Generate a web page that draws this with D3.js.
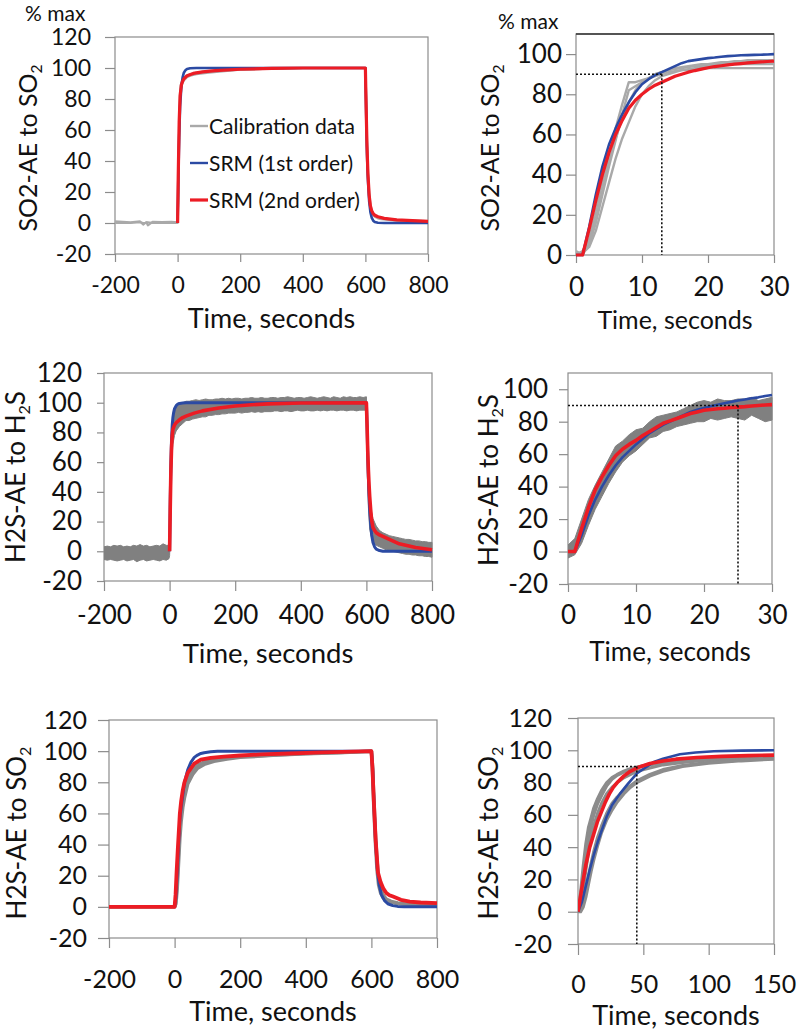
<!DOCTYPE html>
<html><head><meta charset="utf-8">
<script src="https://cdn.jsdelivr.net/npm/d3@7/dist/d3.min.js"></script>
<style>
body{margin:0;background:#fff;}
svg{display:block;font-family:Lato,"Open Sans",sans-serif;}
</style></head>
<body>
<svg id="c" width="799" height="1032"></svg>
<script>
// ---------- Panel 1: SO2-AE to SO2 (long run) ----------
const p1GrayT = [-200,-150,-120,-110,-100,-95,-80,-50,-20,0,2,4,6,8,10,15,20,30,40,60,80,100,150,200,300,400,500,600,602,605,608,612,616,620,625,630,640,650,675,700,750,800];
const p1Gray1 = [1,0.5,1,-1,0.5,-1.5,0.8,0.6,0.7,0.5,15,45,68,80,86,90,92,94,95,96,96.5,97,98,99,99.5,100,100,100,85,55,35,20,12,8,6,5,4,3.5,2.5,2,1.5,1.2];
const p1Gray2 = [0,0,0.5,0,0,0.5,0,0,0,0,20,55,75,85,89,92,93.5,95,96,97,97.5,98,98.5,99,99.5,100,100,100,80,50,30,17,10,7,5,4,3,2.5,2,1.5,1,1];
const p1BlueT = [0,2,5,8,12,16,20,25,30,40,60,100,200,400,600,602,605,608,612,616,620,625,630,640,660,700,800];
const p1Blue  = [0,25,55,75,88,94,97,98.5,99.3,99.8,100,100,100,100,100,75,45,28,14,7,3.5,1.5,0.6,0.2,0,0,0];
const p1RedT  = [0,2,5,8,12,16,20,30,50,80,120,200,300,400,600,602,605,608,612,616,620,625,630,640,660,700,750,800];
const p1Red   = [0,30,65,82,89,91.5,93,95,96.5,97.5,98.3,99.2,99.7,100,100,78,50,32,18,11,8,6,5,4,3,2,1.5,1];

// ---------- Panel 2: SO2-AE to SO2 (first 30 s) ----------
const p2T = [0,1,2,3,4,5,6,7,8,9,10,11,12,13,14,15,16,17,18,19,20,21,22,23,24,25,26,27,28,29,30];
const p2Gray1 = [0,2,8,22,36,50,63,75,86,86,87,88,89,90,91,91.5,92,92,92.5,92.5,93,93,93,93,93,93,93,93,93,93,93];
const p2Gray2 = [0,1,5,16,30,44,57,70,82,84,86,88,90,91,92,92.5,93,93.5,94,94,94.5,95,95,95,95.5,95.5,96,96,96,96.5,96.5];
const p2Gray3 = [1,1,4,12,24,36,48,58,66,74,80,84,87,89,90,91,92,92.5,93,93.5,94,94,94.5,94.5,95,95,95,95,95,95,95];
const p2Gray4 = [2,0,6,18,32,46,58,68,76,82,86,88,90,91,92,93,93.5,94,94.5,95,95,95.5,96,96,96.5,96.5,97,97,97,97,97];
const p2Blue  = [0,0,14,30,44,55,63,70,76,81,85,87.5,89.5,91,92.5,94,95.5,96.5,97,97.5,98,98.3,98.7,99,99.2,99.4,99.5,99.6,99.7,99.8,100];
const p2Red   = [0,0,13,27,40,51,60,67,73,77,80,82.5,84.5,86,87.5,89,90,91,91.8,92.5,93.2,93.8,94.2,94.6,95,95.3,95.6,95.9,96.1,96.3,96.5];

// ---------- Panel 3: H2S-AE to H2S (long run) ----------
const p3BandT = [-200,-190,-180,-170,-160,-150,-140,-130,-120,-110,-100,-90,-80,-70,-60,-50,-40,-30,-20,-10,-2,0,2,5,8,10,15,20,30,40,50,60,70,80,90,100,110,120,130,140,150,160,170,180,190,200,210,220,230,240,250,260,270,280,290,300,310,320,330,340,350,360,370,380,390,400,410,420,430,440,450,460,470,480,490,500,510,520,530,540,550,560,570,580,590,600,603,606,610,615,620,630,640,650,660,670,680,690,700,710,720,730,740,750,760,770,780,790,800];
const p3BandHi = [3,3.5,3,4,3.5,4,3,3.5,3,4,3.5,4.5,3.5,4,3,3.5,4,3.5,5,4,4,5,30,65,85,90,95,97,99,100,101,101,101.5,102,101.5,102,102.5,102,102,102.5,102.5,103,102.5,103,102.5,103,103,102.5,103,103,103.5,103,103,103.5,103,103,103.5,103.5,103,103.5,103.5,104,103.5,103,103.5,103.5,103,103.5,104,103.5,103,103.5,104,103.5,103,104,103.5,103,104,103.5,104,103.5,103.5,104,103.5,104,80,55,35,27,22,17,14,12.5,11.5,10.5,10,9.5,9,8.5,8,8,7.5,7,7,6.5,6.5,6,6];
const p3BandLo = [-5.5,-6,-5.5,-6,-6.5,-6,-5.5,-6.5,-6,-5.5,-7,-6,-5.5,-6.5,-6,-5.5,-6,-6.5,-5.5,-6,-5,-3,10,45,65,72,78,81,84,86,88,88,89,89.5,90,90.5,90.5,91.5,91.5,92,92,92.5,92.5,93,93,93,93.5,93,93.5,93.5,94,93.5,94,93.5,94,94,94,94.5,94.5,94,94.5,94.5,94,94.5,95,94.5,94.5,95,94.5,94.5,95,94.5,95,94.5,95,95,94.5,95,95,94.5,95,95,94.5,95,95,95,50,30,15,10,7,4,3,2,1,0.5,0,-0.5,-1,-1.5,-2,-2,-2.5,-2.5,-3,-3,-3.5,-3.5,-4];
const p3BlueT = [0,2,4,6,8,10,12,15,20,25,30,40,50,70,100,600,602,604,606,608,610,613,616,620,625,630,640,650,700,800];
const p3Blue  = [0,35,60,76,85,90,93,96,98,99,99.5,99.8,100,100,100,100,85,65,50,38,28,18,11,6,3,1.5,0.5,0,0,0];
const p3RedT  = [0,2,4,6,8,10,15,20,30,40,50,75,100,150,200,250,300,400,600,602,604,606,608,610,613,616,620,625,630,640,650,675,700,750,800];
const p3Red   = [0,30,55,70,78,82,85,86.5,88.5,90,91,93,94.5,96.5,97.8,98.6,99.2,99.8,100,85,68,55,45,37,28,21,16,14,12.5,11,10,7.5,5,2.5,1];

// ---------- Panel 4: H2S-AE to H2S (first 30 s) ----------
const p4T = [0,1,2,3,4,5,6,7,8,9,10,11,12,13,14,15,16,17,18,19,20,21,22,23,24,25,26,27,28,29,30];
const p4BandHi = [4,8,20,32,41,49,57,65,68,72,75,76,80,83,84,85,86,88,90,92,93,92,94,93,93,94,94,95,93,94,95];
const p4BandLo = [-4,-2,5,16,26,34,42,49,55,59,62,66,70,71,74,75,77,78,79,80,80,82,81,82,83,82,81,84,82,80,81];
const p4Blue   = [0,0,10,22,32,40,47,53,58,62,66,69.5,73,75.5,78,80,82,84,86,87.3,88.5,89.5,90.5,91.4,92.2,93,93.7,94.4,95,95.8,96.5];
const p4Red    = [0,0,14,27,38,46,53,59,63,66,68.5,71.5,74,76.5,79,80.5,82,83.5,85,86,87,87.5,88,88.3,88.7,89,89.3,89.7,90,90.3,90.5];

// ---------- Panel 5: H2S-AE to SO2 (long run) ----------
const p5GrayT = [-200,0,4,8,12,16,20,25,30,40,55,70,90,120,160,200,300,400,500,600,603,607,612,617,622,628,635,645,660,680,700,750,800];
const p5Gray1 = [0,0,4,18,36,52,62,70,76,83,88,91,93,94.5,95.5,96.5,97.5,98.5,99.2,100,92,72,48,30,18,12,8,5,3.5,2.5,2,1.8,1.5];
const p5Gray2 = [0,0,2,12,28,44,55,64,70,79,85,89,91.5,93.5,95,96,97.3,98.3,99,100,90,66,42,24,14,9,6,4,3,2.2,1.8,1.5,1.2];
const p5BlueT = [0,4,8,12,16,20,25,30,40,50,60,70,80,90,110,131,600,604,608,613,618,623,630,640,650,665,680,700,800];
const p5Blue  = [0,6,22,40,56,64,72,80,88,93,96,97.5,98.5,99,99.6,100,100,88,65,42,25,15,8,4,2,0.8,0.3,0,0];
const p5RedT  = [-200,0,3,6,10,16,20,25,30,40,50,60,80,110,150,200,265,350,450,600,603,607,613,620,628,636,645,655,666,690,717,750,800];
const p5Red   = [0,0,8,22,38,60,68,75,80,86,89,92,94.5,95.7,96.5,97.2,97.9,98.5,99.2,100,90,70,43,22,16,12,9,7.5,6.6,4.5,3.4,2.8,2.4];

// ---------- Panel 6: H2S-AE to SO2 (first 150 s) ----------
const p6GrayT = [0,2,4,6,8,10,12,15,18,22,26,30,35,40,45,55,65,80,100,125,150];
const p6Gray1 = [0,12,28,42,52,58,64,70,75,80,83,85,87,88.5,89.5,91,92.5,93.5,94.5,95.5,96];
const p6Gray2 = [0,8,22,36,46,53,60,67,72,78,82,84.5,86.5,88,89.5,91.5,93,94,95,96,96.5];
const p6Gray3 = [0,4,14,26,37,46,53,61,67,73,77,80,83,85,87,89,91,92.5,94,95,95.5];
const p6Gray4 = [0,1,6,14,22,30,37,46,53,61,67,71,75,78,81,85,88,90.5,92.5,94,95];
const p6Gray5 = [0,0,3,9,17,25,32,41,49,57,63,68,73,77,80,84,87,90,92,93.5,94.5];
const p6BlueT = [0,3,6,9,12,15,18,22,26,32,38,45,52,58,65,78,90,104,125,150];
const p6Blue  = [0,6,16,26,35,43,50,59,66,73,79,85.6,89.5,92.8,94.8,97.5,98.6,99.4,99.8,100];
const p6RedT  = [0,3,6,9,12,15,18,21,24,27,30,35,40,47,55,65,75,91,110,130,150];
const p6Red   = [0,15,29,40,48,56,62,68,73,77,80,84,87,89.7,91.8,93.4,94.5,95.5,96.2,96.7,97];

// ---------- Tick values and labels ----------
const longXTicks = [-200,0,200,400,600,800];
const yTicksA = [-20,0,20,40,60,80,100,120];
const yTicksB = [0,20,40,60,80,100];
const yTicksC = [-20,0,20,40,60,80,100];
const xTicks30 = [0,10,20,30];
const xTicks150 = [0,50,100,150];
const legendLabels = ["Calibration data","SRM (1st order)","SRM (2nd order)"];
const xTitle = "Time, seconds";
const maxLabel = "% max";

const RED = "#ec1c24", BLUE = "#2b4aa3";
const zip = (t, v) => t.map((d, i) => [d, v[i]]);
const fmt = d => String(d);

const panels = [
  {id:1, l:115, r:428, t:37, b:254, xd:[-200,800], yd:[-20,120], xt:longXTicks, yt:yTicksA,
   ytl:10, ylx:91, xtl:8, xly:285, tickFs:23, titleY:318, titleFs:27,
   ylab:["SO2-AE  to  SO","2"], ylabX:28, ylabY:148, ylabFs:25, grayCol:"#a9a9a9", grayW:2.2,
   gray:[zip(p1GrayT,p1Gray1), zip(p1GrayT,p1Gray2)], band:null,
   blue:zip(p1BlueT,p1Blue), red:zip(p1RedT,p1Red), redW:3.2, blueW:2.6, dot:null, max:[25,21]},
  {id:2, l:576, r:774, t:34, b:255, xd:[0,30], yd:[0,110], xt:xTicks30, yt:yTicksB,
   ytl:10, ylx:562, xtl:8, xly:287, tickFs:26, titleY:320, titleFs:25,
   ylab:["SO2-AE  to  SO","2"], ylabX:490, ylabY:148, ylabFs:25, grayCol:"#a9a9a9", grayW:2.4,
   gray:[zip(p2T,p2Gray1),zip(p2T,p2Gray2),zip(p2T,p2Gray3),zip(p2T,p2Gray4)], band:null,
   blue:zip(p2T,p2Blue), red:zip(p2T,p2Red), redW:3.2, blueW:2.6, dot:[13,90], max:[498,29], topDark:true},
  {id:3, l:104, r:432, t:373, b:581, xd:[-200,800], yd:[-20,120], xt:longXTicks, yt:yTicksA,
   ytl:7, ylx:82, xtl:10, xly:615, tickFs:26, titleY:653, titleFs:27.5,
   ylab:["H2S-AE to H","2","S"], ylabX:16, ylabY:477, ylabFs:26, grayCol:"#808080", grayW:2,
   gray:[], band:{t:p3BandT, hi:p3BandHi, lo:p3BandLo},
   blue:zip(p3BlueT,p3Blue), red:zip(p3RedT,p3Red), redW:3.6, blueW:3, dot:null},
  {id:4, l:568, r:772, t:373, b:584, xd:[0,30], yd:[-20,110], xt:xTicks30, yt:yTicksC,
   ytl:9, ylx:548, xtl:8, xly:615, tickFs:26, titleY:652, titleFs:26,
   ylab:["H2S-AE to H","2","S"], ylabX:489, ylabY:480, ylabFs:26, grayCol:"#808080", grayW:2,
   gray:[], band:{t:p4T, hi:p4BandHi, lo:p4BandLo},
   blue:zip(p4T,p4Blue), red:zip(p4T,p4Red), redW:3.6, blueW:2.6, dot:[25,90]},
  {id:5, l:109, r:437, t:720, b:938, xd:[-200,800], yd:[-20,120], xt:longXTicks, yt:yTicksA,
   ytl:11, ylx:87, xtl:10, xly:979, tickFs:25, titleY:1011, titleFs:27,
   ylab:["H2S-AE to SO","2"], ylabX:17, ylabY:833, ylabFs:26, grayCol:"#8a8a8a", grayW:3.5,
   gray:[zip(p5GrayT,p5Gray1), zip(p5GrayT,p5Gray2)], band:null,
   blue:zip(p5BlueT,p5Blue), red:zip(p5RedT,p5Red), redW:3.8, blueW:3, dot:null},
  {id:6, l:578, r:774, t:718, b:944, xd:[0,150], yd:[-20,120], xt:xTicks150, yt:yTicksA,
   ytl:10, ylx:552, xtl:11, xly:984, tickFs:25, titleY:1015, titleFs:27,
   ylab:["H2S-AE to SO","2"], ylabX:489, ylabY:833, ylabFs:26, grayCol:"#8c8c8c", grayW:3.2,
   gray:[zip(p6GrayT,p6Gray1),zip(p6GrayT,p6Gray2),zip(p6GrayT,p6Gray3),zip(p6GrayT,p6Gray4),zip(p6GrayT,p6Gray5)], band:null,
   blue:zip(p6BlueT,p6Blue), red:zip(p6RedT,p6Red), redW:3.6, blueW:2.6, dot:[45,90]}
];

const svg = d3.select("#c");
const defs = svg.append("defs");

panels.forEach(p => {
  const x = d3.scaleLinear().domain(p.xd).range([p.l, p.r]);
  const y = d3.scaleLinear().domain(p.yd).range([p.b, p.t]);
  const g = svg.append("g");
  const cid = "clip" + p.id;
  defs.append("clipPath").attr("id", cid).append("rect")
    .attr("x", p.l).attr("y", p.t - 2).attr("width", p.r - p.l + 1).attr("height", p.b - p.t + 4);

  // frame
  g.append("rect").attr("x", p.l).attr("y", p.t).attr("width", p.r - p.l).attr("height", p.b - p.t)
    .attr("fill", "none").attr("stroke", "#8c8c8c").attr("stroke-width", 1.2);
  if (p.topDark) g.append("line").attr("x1", p.l).attr("x2", p.r).attr("y1", p.t).attr("y2", p.t)
    .attr("stroke", "#333").attr("stroke-width", 1.4);

  // y axis
  const ya = g.append("g").attr("transform", `translate(${p.l},0)`)
    .call(d3.axisLeft(y).tickValues(p.yt).tickSize(p.ytl).tickPadding(p.l - p.ytl - p.ylx).tickFormat(fmt));
  ya.select(".domain").remove();
  ya.selectAll("line").attr("stroke", "#8c8c8c").attr("stroke-width", 1.2);
  ya.selectAll("text").attr("font-size", p.tickFs).attr("font-family", "Lato").attr("fill", "#111");

  // x axis
  const xa = g.append("g").attr("transform", `translate(0,${p.b})`)
    .call(d3.axisBottom(x).tickValues(p.xt).tickSize(p.xtl).tickFormat(fmt));
  xa.select(".domain").remove();
  xa.selectAll("line").attr("stroke", "#8c8c8c").attr("stroke-width", 1.2);
  xa.selectAll("text").attr("font-size", p.tickFs).attr("font-family", "Lato").attr("fill", "#111")
    .attr("y", p.xly - p.b).attr("dy", "0.36em");

  const plot = g.append("g").attr("clip-path", `url(#${cid})`);
  const line = d3.line().x(d => x(d[0])).y(d => y(d[1]));

  if (p.band) {
    const bd = p.band.t.map((t, i) => ({t, hi: p.band.hi[i], lo: p.band.lo[i]}));
    plot.append("path").datum(bd)
      .attr("d", d3.area().x(d => x(d.t)).y0(d => y(d.lo)).y1(d => y(d.hi)))
      .attr("fill", p.grayCol).attr("stroke", p.grayCol).attr("stroke-width", 1);
  }
  p.gray.forEach(s => plot.append("path").datum(s).attr("d", line)
    .attr("fill", "none").attr("stroke", p.grayCol).attr("stroke-width", p.grayW).attr("stroke-linejoin", "round"));
  plot.append("path").datum(p.blue).attr("d", line).attr("fill", "none")
    .attr("stroke", BLUE).attr("stroke-width", p.blueW).attr("stroke-linejoin", "round");
  plot.append("path").datum(p.red).attr("d", line).attr("fill", "none")
    .attr("stroke", RED).attr("stroke-width", p.redW).attr("stroke-linejoin", "round");

  if (p.dot) {
    const [tx, ty] = p.dot;
    g.append("line").attr("x1", x(p.xd[0])).attr("x2", x(tx)).attr("y1", y(ty)).attr("y2", y(ty))
      .attr("stroke", "#111").attr("stroke-width", 1.6).attr("stroke-dasharray", "2,2");
    g.append("line").attr("x1", x(tx)).attr("x2", x(tx)).attr("y1", y(ty)).attr("y2", y(p.yd[0]))
      .attr("stroke", "#111").attr("stroke-width", 1.6).attr("stroke-dasharray", "2,2");
  }

  // x title
  g.append("text").attr("x", (p.l + p.r) / 2).attr("y", p.titleY).attr("dy", "0.36em")
    .attr("text-anchor", "middle").attr("font-size", p.titleFs).attr("fill", "#111").text(xTitle);

  // y label
  const yl = g.append("text").attr("transform", `translate(${p.ylabX},${p.ylabY}) rotate(-90)`)
    .attr("text-anchor", "middle").attr("dy", "0.36em").attr("font-size", p.ylabFs).attr("fill", "#111");
  p.ylab.forEach((s, i) => {
    const ts = yl.append("tspan").text(s);
    if (s === "2") ts.attr("font-size", p.ylabFs * 0.62).attr("dy", "0.3em");
    else if (i > 0) ts.attr("dy", "-0.19em");
  });

  if (p.max) g.append("text").attr("x", p.max[0]).attr("y", p.max[1]).attr("font-size", 21)
    .attr("fill", "#111").text(maxLabel);

  if (p.id === 1) {
    const cols = ["#a9a9a9", BLUE, RED];
    const ly = [126, 163, 200];
    legendLabels.forEach((lab, i) => {
      g.append("line").attr("x1", 190).attr("x2", 208).attr("y1", ly[i]).attr("y2", ly[i])
        .attr("stroke", cols[i]).attr("stroke-width", i === 2 ? 3.2 : 2.4);
      g.append("text").attr("x", 209).attr("y", ly[i]).attr("dy", "0.36em").attr("font-size", 21)
        .attr("fill", "#111").text(lab);
    });
  }
});
</script>
</body></html>
